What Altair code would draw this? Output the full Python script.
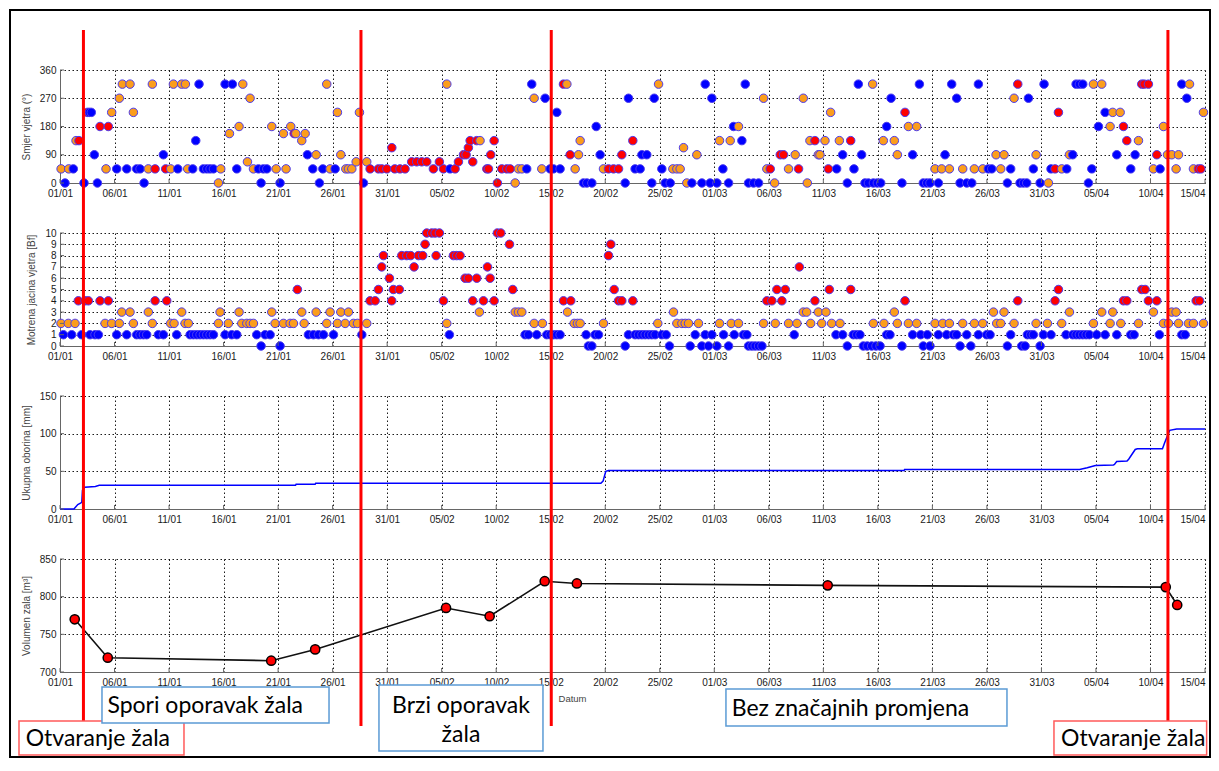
import altair as alt
import pandas as pd

# ---------------- data (x = days since 01/01/2016) ----------------
# wind direction observations: (day, direction deg, class B=Bf0-1, O=Bf2-3, R=Bf>=4)
dir_jan = [(0.1,45,'O'),(0.46,0,'B'),(0.8,45,'O'),(1.22,45,'B'),(1.47,135,'O'),(1.74,135,'R'),(2.2,0,'B'),
    (2.51,225,'R'),(2.69,225,'B'),(2.87,225,'B'),(3.15,90,'B'),(3.43,0,'B'),(3.67,180,'R'),(4.22,45,'O'),
    (4.43,180,'R'),(4.74,225,'O'),(5.2,45,'B'),(5.44,270,'O'),(5.72,315,'O'),(6.12,45,'B'),(6.42,315,'O'),
    (6.73,225,'O'),(7.03,45,'B'),(7.34,45,'B'),(7.71,0,'B'),(8.1,45,'O'),(8.47,315,'O'),(8.72,45,'R'),
    (9.48,90,'B'),(9.69,45,'R'),(10.15,45,'O'),(10.4,315,'O'),(10.8,45,'B'),(11.16,315,'O'),(11.5,315,'O'),
    (11.71,45,'O'),(12.17,45,'B'),(12.45,135,'B'),(12.75,315,'B'),(13.15,45,'B'),(13.46,45,'B'),(13.76,45,'B'),
    (14.07,45,'B'),(14.53,0,'O'),(14.74,45,'O'),(15.14,315,'B'),(15.54,157.5,'O'),(15.81,315,'B'),(16.21,45,'B'),
    (16.42,180,'O'),(16.76,315,'O'),(17.19,67.5,'O'),(17.43,270,'O'),(17.74,45,'O'),(18.2,45,'B'),(18.44,0,'B'),
    (18.65,45,'B'),(18.96,45,'B'),(19.42,180,'O'),(19.82,45,'O'),(20.18,0,'B'),(20.49,157.5,'O'),(20.73,45,'O'),
    (21.16,180,'O'),(21.47,157.5,'R'),(21.62,157.5,'O'),(22.17,135,'O'),(22.48,157.5,'O'),(22.69,90,'B'),
    (23.18,45,'B'),(23.49,90,'O'),(23.79,0,'B'),(24.1,45,'B'),(24.46,315,'O'),(24.77,45,'O'),(25.23,45,'B'),
    (25.44,225,'O'),(25.75,90,'O'),(26.21,45,'O'),(26.45,45,'O'),(26.76,45,'O'),(27.16,67.5,'O'),(27.46,225,'O'),
    (27.83,0,'B'),(28.13,67.5,'O'),(28.44,45,'R'),(29.2,45,'R'),(29.5,45,'R'),(29.97,45,'R'),(30.43,112.5,'R'),
    (30.7,45,'R')]
dir_feb = [(31.18,45,'R'),(31.64,45,'R'),(32.25,67.5,'R'),(32.71,67.5,'R'),(33.17,67.5,'R'),(33.63,67.5,'R'),
    (34.24,45,'R'),(34.79,67.5,'R'),(35.16,45,'R'),(35.47,315,'O'),(35.77,45,'B'),(36.23,45,'R'),(36.54,67.5,'R'),
    (37.0,90,'R'),(37.24,90,'R'),(37.45,112.5,'R'),(37.61,135,'R'),(37.85,67.5,'R'),(38.22,135,'R'),(38.52,135,'O'),
    (39.14,45,'R'),(39.29,45,'R'),(39.5,90,'R'),(39.81,135,'R'),(40.11,0,'R'),(40.51,45,'R'),(40.97,45,'R'),
    (41.28,45,'R'),(41.74,0,'O'),(42.04,45,'O'),(42.35,45,'O'),(42.8,45,'B'),(43.26,315,'B'),(43.48,270,'O'),
    (44.18,45,'O'),(44.49,270,'B'),(44.95,45,'B'),(45.25,45,'B'),(45.56,225,'B'),(45.86,45,'B'),(46.17,315,'R'),
    (46.48,315,'O'),(46.78,90,'R'),(47.24,45,'O'),(47.55,90,'O'),(47.7,135,'O'),(48.0,0,'B'),(48.31,0,'B'),
    (48.77,0,'B'),(49.17,180,'B'),(49.53,90,'B'),(49.84,45,'O'),(50.3,45,'R'),(50.76,45,'R'),(51.22,45,'R'),
    (51.52,90,'R'),(51.83,0,'B'),(52.13,270,'B'),(52.53,135,'R'),(52.74,45,'B'),(53.2,45,'B'),(53.36,90,'B'),
    (53.81,90,'B'),(54.27,0,'B'),(54.49,270,'B'),(54.89,315,'O'),(55.19,45,'B'),(55.5,0,'B'),(55.96,0,'B'),
    (56.2,45,'O'),(56.57,45,'O'),(56.87,45,'O'),(57.18,112.5,'O'),(57.48,0,'O'),(57.94,0,'B'),(58.4,90,'O'),
    (58.86,0,'B'),(59.17,315,'B'),(59.62,0,'B'),(59.78,270,'B')]
dir_mar = [(60.24,0,'B'),(60.48,135,'O'),(60.79,45,'B'),(61.31,0,'B'),(61.46,135,'O'),(61.77,180,'B'),
    (62.22,180,'O'),(62.53,135,'B'),(62.84,315,'B'),(63.14,0,'B'),(63.6,0,'B'),(64.06,0,'B'),(64.52,270,'O'),
    (64.82,45,'O'),(65.13,45,'R'),(65.53,0,'O'),(66.05,90,'R'),(66.35,90,'R'),(66.81,45,'O'),(67.42,90,'O'),
    (67.73,45,'R'),(68.16,270,'O'),(68.53,0,'O'),(68.77,135,'O'),(69.23,135,'R'),(69.54,90,'O'),(69.69,90,'O'),
    (70.15,135,'O'),(70.46,45,'R'),(70.67,225,'O'),(71.22,45,'B'),(71.47,135,'O'),(71.77,90,'B'),(72.2,0,'B'),
    (72.51,135,'R'),(72.81,45,'B'),(73.21,315,'B'),(73.51,90,'B'),(73.82,0,'B'),(74.13,0,'B'),(74.52,315,'O'),
    (74.59,0,'B'),(74.95,0,'B'),(75.26,0,'B'),(75.5,135,'O'),(75.81,180,'B'),(76.21,270,'B'),(76.51,135,'O'),
    (76.79,90,'O'),(77.21,0,'B'),(77.49,225,'R'),(77.8,180,'O'),(78.19,90,'B'),(78.56,180,'O'),(78.81,315,'B'),
    (79.17,0,'B'),(79.48,0,'B'),(79.78,0,'B'),(80.24,45,'O'),(80.55,0,'B'),(80.85,45,'O'),(81.16,90,'B'),
    (81.56,45,'O'),(81.77,315,'B'),(82.23,270,'B'),(82.54,0,'B'),(82.78,45,'O'),(83.15,0,'B'),(83.61,0,'B'),
    (83.85,45,'O'),(84.22,315,'B'),(84.62,45,'O'),(85.13,45,'B'),(85.44,45,'B'),(85.84,90,'O'),(86.27,45,'O'),
    (86.57,90,'O'),(86.88,0,'B'),(87.18,45,'B'),(87.49,270,'O'),(87.83,315,'R'),(88.04,0,'B'),(88.35,0,'B'),
    (88.65,0,'B'),(88.81,270,'B'),(89.26,45,'B'),(89.51,90,'O'),(89.88,0,'B')]
dir_apr = [(90.24,315,'B'),(90.64,0,'O'),(90.88,45,'B'),(91.25,45,'R'),(91.56,225,'R'),(91.86,45,'O'),
    (92.32,45,'B'),(92.57,90,'O'),(92.87,90,'B'),(93.18,315,'B'),(93.48,315,'B'),(93.79,315,'B'),(94.31,0,'B'),
    (94.62,45,'B'),(94.77,315,'O'),(95.23,180,'B'),(95.53,315,'O'),(95.84,225,'B'),(96.3,180,'O'),(96.54,225,'O'),
    (96.91,90,'B'),(97.22,225,'O'),(97.52,180,'R'),(97.83,135,'R'),(98.19,45,'B'),(98.59,90,'B'),(98.9,135,'O'),
    (99.2,315,'R'),(99.42,315,'R'),(99.81,315,'R'),(100.27,45,'O'),(100.58,90,'R'),(100.88,45,'B'),(101.19,180,'O'),
    (101.56,90,'O'),(101.95,90,'O'),(102.35,45,'O'),(102.57,90,'O'),(102.87,315,'B'),(103.33,270,'B'),
    (103.58,315,'O'),(103.94,45,'O'),(104.4,45,'R'),(104.62,45,'R'),(104.86,225,'O')]

# observed wind force (day, Beaufort)
bf_jan = [(0.09,2),(0.31,1),(0.76,2),(1.07,1),(1.38,2),(1.68,4),(1.99,1),(2.29,4),(2.6,4),(2.75,1),(3.21,1),
    (3.52,1),(3.67,4),(4.13,2),(4.43,4),(4.74,2),(5.2,1),(5.44,2),(5.66,3),(6.12,1),(6.42,3),(6.73,2),(7.03,1),
    (7.34,1),(7.65,1),(7.95,1),(8.1,3),(8.47,2),(8.72,4),(9.02,1),(9.48,1),(9.79,4),(10.15,2),(10.46,2),(10.7,1),
    (11.16,3),(11.47,2),(11.77,2),(11.93,1),(12.23,1),(12.54,1),(12.84,1),(13.15,1),(13.46,1),(13.76,1),(14.07,1),
    (14.53,2),(14.68,3),(15.14,1),(15.44,2),(15.75,1),(16.21,1),(16.42,3),(16.67,2),(17.13,2),(17.43,2),(17.74,2),
    (18.04,1),(18.44,0),(18.81,1),(19.27,1),(19.42,3),(19.72,2),(20.18,0),(20.49,2),(21.1,2),(21.41,2),(21.77,5),
    (22.17,3),(22.39,2),(22.78,1),(23.24,1),(23.49,3),(23.7,1),(24.16,1),(24.46,2),(24.77,3),(25.08,1),(25.44,2),
    (25.75,3),(26.15,2),(26.45,3),(26.91,2),(27.28,2),(27.68,1),(28.13,2),(28.44,4),(28.9,4),(29.2,5)]
bf_feb = [(29.5,7),(29.66,8),(30.21,6),(30.42,4),(30.57,5),(31.12,5),(31.34,8),(31.8,8),(32.16,8),(32.47,7),
    (32.87,8),(33.26,8),(33.48,9),(33.63,10),(34.09,10),(34.4,10),(34.49,8),(34.79,10),(35.16,4),(35.47,2),
    (35.71,1),(36.08,8),(36.38,8),(36.69,8),(37.15,6),(37.45,6),(37.85,4),(38.22,6),(38.46,3),(38.83,4),(39.2,7),
    (39.44,6),(39.81,4),(40.11,10),(40.42,10),(41.22,9),(41.52,5),(41.74,3),(42.04,3),(42.35,3),(42.65,1),
    (42.96,1),(43.48,2),(43.72,1),(44.24,2),(44.64,1),(44.95,1),(45.25,1),(45.56,1),(45.86,1),(46.17,4),(46.54,3),
    (46.84,4),(47.15,2),(47.45,2),(47.7,2),(48.25,1),(48.46,0),(48.77,0),(49.07,1),(49.38,1),(49.84,2),(50.3,8),
    (50.51,9),(50.82,5),(51.22,4),(51.52,4),(51.83,0),(52.13,1),(52.53,4),(52.74,1),(53.05,1),(53.36,1),(53.66,1),
    (53.97,1),(54.27,1),(54.58,1),(54.82,2),(55.19,1),(55.59,1),(55.89,0),(56.26,3),(56.57,2),(57.03,2),(57.33,2),
    (57.64,2),(57.79,0),(58.25,1),(58.55,2),(58.86,0),(59.17,1),(59.47,0),(59.78,1)]
bf_mar = [(60.24,0),(60.48,2),(60.85,1),(61.31,0),(61.55,2),(61.83,1),(62.22,2),(62.68,1),(62.99,1),(63.14,0),
    (63.45,0),(63.75,0),(64.06,0),(64.37,0),(64.52,2),(64.82,4),(65.28,4),(65.59,2),(65.74,5),(66.2,4),(66.51,5),
    (66.81,2),(67.33,1),(67.58,2),(67.8,7),(68.16,3),(68.47,3),(68.84,2),(69.23,4),(69.54,3),(69.85,2),(70.24,3),
    (70.55,5),(70.76,2),(71.16,1),(71.53,2),(71.77,1),(72.2,0),(72.51,5),(72.75,1),(73.06,1),(73.36,1),(73.67,0),
    (74.03,0),(74.43,0),(74.59,2),(74.83,0),(75.2,0),(75.56,2),(75.81,1),(76.11,1),(76.51,3),(76.79,2),(77.21,0),
    (77.49,4),(77.8,2),(78.19,1),(78.56,2),(78.93,1),(79.17,0),(79.54,1),(79.78,0),(80.24,2),(80.55,1),(80.95,2),
    (81.31,1),(81.56,2),(81.92,1),(82.23,1),(82.54,0),(82.78,2),(83.15,1),(83.52,0),(83.85,2),(84.22,1),(84.62,2),
    (84.98,1),(85.29,1),(85.6,3),(85.9,2),(86.27,2),(86.57,3),(86.88,0),(87.18,1),(87.49,2),(87.83,4),(88.19,0),
    (88.5,0),(88.71,1),(89.02,1),(89.26,1),(89.51,2),(89.88,0)]
bf_apr = [(90.18,1),(90.55,2),(90.88,1),(91.25,4),(91.56,5),(91.86,2),(92.26,1),(92.57,3),(92.87,1),(93.18,1),
    (93.48,1),(93.79,1),(94.1,1),(94.4,1),(94.77,2),(95.07,1),(95.53,3),(95.84,1),(96.3,2),(96.54,3),(96.91,1),
    (97.28,2),(97.52,4),(97.83,4),(98.19,1),(98.5,1),(98.9,2),(99.2,5),(99.51,5),(99.81,4),(100.27,3),(100.58,4),
    (100.82,1),(101.19,2),(101.65,2),(101.95,3),(102.35,3),(102.57,2),(102.87,1),(103.18,1),(103.48,2),(103.94,2),
    (104.19,4),(104.5,4),(104.86,2)]

# cumulative precipitation [mm]
rain_day = [0, 1.28, 1.63, 1.92, 2.0, 2.06, 2.28, 3.24, 3.6, 21.6, 21.65, 23.4, 23.45, 49.6, 49.8, 50.05, 50.3,
            77.4, 77.45, 93.5, 94.2, 94.95, 96.6, 96.7, 96.9, 97.85, 98.0, 98.6, 98.8, 101.1, 101.3, 101.76,
            102.4, 105]
rain_mm = [0, 0, 5.8, 8, 9, 25, 29, 30, 31.5, 31.5, 33, 33, 34.2, 34.2, 37, 50, 51.1,
           51.1, 52.4, 52.4, 54.7, 57.8, 58.5, 59.1, 63, 63.6, 66, 79, 80, 80, 88, 104.4,
           106.2, 106.2]

# beach volume [m3]
vol_day = [1.35, 4.38, 19.37, 23.4, 35.4, 39.4, 44.45, 47.4, 70.4, 101.4, 102.45]
vol_m3 = [770, 719, 715, 730, 785, 774, 820.5, 817.5, 815, 812.7, 789]

# event lines (beach opening / recovery boundaries) and period annotations
open_days = [2.15, 101.6]
phase_days = [27.6, 45.05]
box_texts = ["Otvaranje žala", "Spori oporavak žala", "Brzi oporavak|žala", "Bez značajnih promjena", "Otvaranje žala"]
box_start = [-3.76, 3.85, 29.25, 61.07, 91.15]
box_end = [11.37, 24.67, 44.29, 86.84, 105.15]
box_text_day = [-3.15, 4.35, 36.77, 61.6, 91.8]
box_kind = ["red", "blue", "blue", "blue", "red"]

x_ticks = list(range(0, 106, 5))
y1_ticks = [0, 90, 180, 270, 360]
y2_ticks = list(range(0, 11))
y3_ticks = [0, 50, 100, 150]
y4_ticks = [700, 750, 800, 850]

# ---------------- styling ----------------
W, H, GAP = 1145, 113, 50
BLUE, ORANGE, RED = "#0000ff", "#fb9d1c", "#ff0000"
EDGE = "#4b3cf0"
FONT = "Liberation Sans"
LABEL_EXPR = "timeFormat(datetime(2016, 0, 1 + datum.value), '%d/%m')"
LABEL_ALIGN = {"condition": {"test": "datum.value >= 105", "value": "right"}, "value": "center"}
xscale = alt.Scale(domain=[0, 105], nice=False, zero=False)
cls_scale = alt.Scale(domain=["B", "O", "R"], range=[BLUE, ORANGE, RED])


def x_axis(title=None, **kw):
    return alt.Axis(values=x_ticks, labelExpr=LABEL_EXPR, labelFlush=False, labelOverlap=False,
                    labelAlign=LABEL_ALIGN,
                    grid=True, gridColor="#000", gridDash=[1.5, 2.5], gridWidth=0.9,
                    ticks=False, domainColor="#666", domainWidth=1,
                    labelFont=FONT, labelFontSize=10, labelColor="#1a1a1a", labelPadding=5,
                    title=title, **kw)


def y_axis(vals, title):
    return alt.Axis(values=vals, grid=True, gridColor="#000", gridDash=[1.5, 2.5], gridWidth=0.9,
                    ticks=False, domainColor="#666", domainWidth=1,
                    labelFont=FONT, labelFontSize=10, labelColor="#1a1a1a", labelPadding=4,
                    title=title, titleFont=FONT, titleFontSize=10, titleFontWeight="normal",
                    titleColor="#444", titlePadding=8)


def inner_ticks(xa, yscale, ya, yvals):
    xt = alt.Chart(pd.DataFrame({"t": x_ticks})).mark_rule(color="#666", strokeWidth=1).encode(
        x=alt.X("t:Q", scale=xscale, axis=xa), y=alt.value(H), y2=alt.value(H - 4))
    yt = alt.Chart(pd.DataFrame({"v": yvals})).mark_rule(color="#666", strokeWidth=1).encode(
        y=alt.Y("v:Q", scale=yscale, axis=ya), x=alt.value(0), x2=alt.value(4))
    return [xt, yt]


# ---------------- panel 1: wind direction ----------------
df_dir = pd.DataFrame(dir_jan + dir_feb + dir_mar + dir_apr, columns=["day", "deg", "cls"])
ys1 = alt.Scale(domain=[0, 360], nice=False, zero=False)
xa1 = x_axis()
ya1 = y_axis(y1_ticks, "Smjer vjetra (°)")
p1 = alt.layer(
    alt.Chart(df_dir).mark_circle(size=72, opacity=1, stroke=EDGE, strokeWidth=1).encode(
        x=alt.X("day:Q", scale=xscale, axis=xa1),
        y=alt.Y("deg:Q", scale=ys1, axis=ya1),
        fill=alt.Fill("cls:N", scale=cls_scale, legend=None)),
    *inner_ticks(xa1, ys1, ya1, y1_ticks)
).properties(width=W, height=H)

# ---------------- panel 2: wind force ----------------
df_bf = pd.DataFrame(bf_jan + bf_feb + bf_mar + bf_apr, columns=["day", "bf"])
df_bf["cls"] = ["B" if v <= 1 else ("O" if v <= 3 else "R") for v in df_bf["bf"]]
ys2 = alt.Scale(domain=[0, 10], nice=False, zero=False)
xa2 = x_axis()
ya2 = y_axis(y2_ticks, "Motrena jacina vjetra [Bf]")
p2 = alt.layer(
    alt.Chart(df_bf).mark_circle(size=72, opacity=1, stroke=EDGE, strokeWidth=1).encode(
        x=alt.X("day:Q", scale=xscale, axis=xa2),
        y=alt.Y("bf:Q", scale=ys2, axis=ya2),
        fill=alt.Fill("cls:N", scale=cls_scale, legend=None)),
    *inner_ticks(xa2, ys2, ya2, y2_ticks)
).properties(width=W, height=H)

# ---------------- panel 3: precipitation ----------------
df_rain = pd.DataFrame({"day": rain_day, "mm": rain_mm})
ys3 = alt.Scale(domain=[0, 150], nice=False, zero=False)
xa3 = x_axis()
ya3 = y_axis(y3_ticks, "Ukupna oborina [mm]")
p3 = alt.layer(
    alt.Chart(df_rain).mark_line(color="#0000ff", strokeWidth=1.5).encode(
        x=alt.X("day:Q", scale=xscale, axis=xa3),
        y=alt.Y("mm:Q", scale=ys3, axis=ya3)),
    *inner_ticks(xa3, ys3, ya3, y3_ticks)
).properties(width=W, height=H)

# ---------------- panel 4: beach volume + annotations ----------------
df_vol = pd.DataFrame({"day": vol_day, "v": vol_m3})
ys4 = alt.Scale(domain=[700, 850], nice=False, zero=False)
xa4 = x_axis("Datum", titleX=512, titleY=26, titleBaseline="middle", titleFont=FONT, titleFontSize=9.5,
             titleFontWeight="normal", titleColor="#444")
ya4 = y_axis(y4_ticks, "Volumen zala [m³]")
vol_line = alt.Chart(df_vol).mark_line(color="#111", strokeWidth=1.6).encode(
    x=alt.X("day:Q", scale=xscale, axis=xa4),
    y=alt.Y("v:Q", scale=ys4, axis=ya4))
vol_pts = alt.Chart(df_vol).mark_circle(size=85, opacity=1, color=RED, stroke="#000", strokeWidth=1.5).encode(
    x=alt.X("day:Q", scale=xscale, axis=xa4), y=alt.Y("v:Q", scale=ys4, axis=ya4))

# page-y of the top of panel 4 (panel 1 plot top is at page y = 70)
OFF = 70 + 3 * (H + GAP)
open_lines = alt.Chart(pd.DataFrame({"d": open_days})).mark_rule(color="#ff0000", strokeWidth=3).encode(
    x=alt.X("d:Q", scale=xscale, axis=xa4), y=alt.value(30 - OFF), y2=alt.value(721 - OFF))
phase_lines = alt.Chart(pd.DataFrame({"d": phase_days})).mark_rule(color="#ff0000", strokeWidth=3).encode(
    x=alt.X("d:Q", scale=xscale, axis=xa4), y=alt.value(30 - OFF), y2=alt.value(726 - OFF))

box_layers = []
box_y = [(721, 755), (687, 723), (685, 751), (689, 726), (721, 755)]
for i, txt in enumerate(box_texts):
    y0, y1 = box_y[i]
    col = "#ff5a5a" if box_kind[i] == "red" else "#5b9bd5"
    bdf = pd.DataFrame({"a": [box_start[i]], "b": [box_end[i]], "t": [box_text_day[i]]})
    box_layers.append(alt.Chart(bdf).mark_rect(fill="white", stroke=col, strokeWidth=1.5).encode(
        x=alt.X("a:Q", scale=xscale, axis=xa4), x2="b",
        y=alt.value(y0 - OFF), y2=alt.value(y1 - OFF)))
    lines = txt.split("|")
    if len(lines) == 1:
        box_layers.append(alt.Chart(bdf).mark_text(text=lines[0], align="left", baseline="middle", font="Lato",
                                                   fontSize=23, color="#000").encode(
            x=alt.X("t:Q", scale=xscale, axis=xa4), y=alt.value((y0 + y1) / 2 + 1 - OFF)))
    else:
        for j, ln in enumerate(lines):
            box_layers.append(alt.Chart(bdf).mark_text(text=ln, align="center", baseline="middle", font="Lato",
                                                       fontSize=23, color="#000").encode(
                x=alt.X("t:Q", scale=xscale, axis=xa4), y=alt.value(706 + 29 * j - OFF)))

frame = alt.Chart(pd.DataFrame({"k": [0]})).mark_rect(fillOpacity=0, stroke="#000", strokeWidth=2).encode(
    x=alt.value(-50), x2=alt.value(1150), y=alt.value(10 - OFF), y2=alt.value(757 - OFF))

p4 = alt.layer(vol_line, vol_pts, *inner_ticks(xa4, ys4, ya4, y4_ticks), open_lines, phase_lines,
               *box_layers, frame).properties(width=W, height=H)

chart = alt.vconcat(p1, p2, p3, p4, spacing=GAP, bounds="flush").properties(
    padding={"left": 1, "top": 1, "right": 0, "bottom": 0}
).configure_view(stroke=None)

chart.save("out.html", embed_options={"renderer": "svg", "actions": False})
